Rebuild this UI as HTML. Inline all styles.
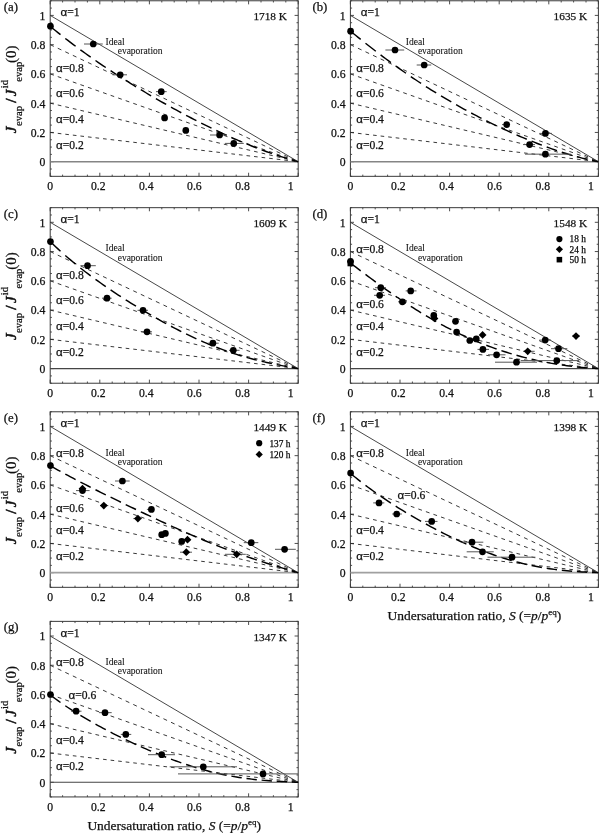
<!DOCTYPE html>
<html><head><meta charset="utf-8"><style>
html,body{margin:0;padding:0;background:#fff;}
svg{display:block;font-family:"Liberation Serif", serif;will-change:transform;filter:blur(0.3px);}
text{stroke:#111;stroke-width:0.25px;}
.lt text{stroke-width:0.08px;}
</style></head><body>
<svg width="600" height="833" viewBox="0 0 600 833" fill="#111">
<rect width="600" height="833" fill="#fff"/>
<g><rect x="50.2" y="0.77" width="248" height="175.56" fill="none" stroke="#3a3a3a" stroke-width="1"/>
<path d="M50.2,176.33v-3.6M50.2,0.77v3.6M62.6,176.33v-1.7M62.6,0.77v1.7M75,176.33v-1.7M75,0.77v1.7M87.4,176.33v-1.7M87.4,0.77v1.7M99.8,176.33v-3.6M99.8,0.77v3.6M112.2,176.33v-1.7M112.2,0.77v1.7M124.6,176.33v-1.7M124.6,0.77v1.7M137,176.33v-1.7M137,0.77v1.7M149.4,176.33v-3.6M149.4,0.77v3.6M161.8,176.33v-1.7M161.8,0.77v1.7M174.2,176.33v-1.7M174.2,0.77v1.7M186.6,176.33v-1.7M186.6,0.77v1.7M199,176.33v-3.6M199,0.77v3.6M211.4,176.33v-1.7M211.4,0.77v1.7M223.8,176.33v-1.7M223.8,0.77v1.7M236.2,176.33v-1.7M236.2,0.77v1.7M248.6,176.33v-3.6M248.6,0.77v3.6M261,176.33v-1.7M261,0.77v1.7M273.4,176.33v-1.7M273.4,0.77v1.7M285.8,176.33v-1.7M285.8,0.77v1.7M298.2,176.33v-3.6M298.2,0.77v3.6M50.2,176.33h1.7M298.2,176.33h-1.7M50.2,169.01h1.7M298.2,169.01h-1.7M50.2,161.7h3.6M298.2,161.7h-3.6M50.2,154.38h1.7M298.2,154.38h-1.7M50.2,147.07h1.7M298.2,147.07h-1.7M50.2,139.75h1.7M298.2,139.75h-1.7M50.2,132.44h3.6M298.2,132.44h-3.6M50.2,125.12h1.7M298.2,125.12h-1.7M50.2,117.81h1.7M298.2,117.81h-1.7M50.2,110.49h1.7M298.2,110.49h-1.7M50.2,103.18h3.6M298.2,103.18h-3.6M50.2,95.86h1.7M298.2,95.86h-1.7M50.2,88.55h1.7M298.2,88.55h-1.7M50.2,81.23h1.7M298.2,81.23h-1.7M50.2,73.92h3.6M298.2,73.92h-3.6M50.2,66.6h1.7M298.2,66.6h-1.7M50.2,59.29h1.7M298.2,59.29h-1.7M50.2,51.97h1.7M298.2,51.97h-1.7M50.2,44.66h3.6M298.2,44.66h-3.6M50.2,37.34h1.7M298.2,37.34h-1.7M50.2,30.03h1.7M298.2,30.03h-1.7M50.2,22.71h1.7M298.2,22.71h-1.7M50.2,15.4h3.6M298.2,15.4h-3.6M50.2,8.08h1.7M298.2,8.08h-1.7M50.2,0.77h1.7M298.2,0.77h-1.7" stroke="#3a3a3a" stroke-width="0.9" fill="none"/>
<line x1="50.2" y1="161.7" x2="298.2" y2="161.7" stroke="#858585" stroke-width="1.6"/>
<path d="M50.2,44.66 53.8,46.36M57.75,48.22 61.35,49.92M65.3,51.79 68.9,53.49M72.85,55.35 76.45,57.05M80.4,58.91 84,60.61M87.95,62.48 91.55,64.17M95.5,66.04 99.1,67.74M103.05,69.6 106.65,71.3M110.6,73.16 114.2,74.86M118.15,76.73 121.75,78.43M125.7,80.29 129.3,81.99M133.25,83.85 136.85,85.55M140.8,87.42 144.4,89.12M148.35,90.98 151.95,92.68M155.9,94.54 159.5,96.24M163.45,98.11 167.05,99.81M171,101.67 174.6,103.37M178.55,105.23 182.15,106.93M186.1,108.8 189.7,110.49M193.65,112.36 197.25,114.06M201.2,115.92 204.8,117.62M208.75,119.49 212.35,121.18M216.3,123.05 219.9,124.75M223.85,126.61 227.45,128.31M231.4,130.17 235,131.87M238.95,133.74 242.55,135.44M246.5,137.3 250.1,139M254.05,140.86 257.65,142.56M261.6,144.43 265.2,146.13M269.15,147.99 272.75,149.69M276.7,151.55 280.3,153.25M284.25,155.12 287.85,156.82M291.8,158.68 295.4,160.38M50.2,73.92 53.8,75.19M57.75,76.59 61.35,77.87M65.3,79.26 68.9,80.54M72.85,81.94 76.45,83.21M80.4,84.61 84,85.88M87.95,87.28 91.55,88.56M95.5,89.95 99.1,91.23M103.05,92.63 106.65,93.9M110.6,95.3 114.2,96.57M118.15,97.97 121.75,99.25M125.7,100.64 129.3,101.92M133.25,103.32 136.85,104.59M140.8,105.99 144.4,107.26M148.35,108.66 151.95,109.93M155.9,111.33 159.5,112.61M163.45,114.01 167.05,115.28M171,116.68 174.6,117.95M178.55,119.35 182.15,120.62M186.1,122.02 189.7,123.3M193.65,124.69 197.25,125.97M201.2,127.37 204.8,128.64M208.75,130.04 212.35,131.31M216.3,132.71 219.9,133.99M223.85,135.38 227.45,136.66M231.4,138.06 235,139.33M238.95,140.73 242.55,142M246.5,143.4 250.1,144.67M254.05,146.07 257.65,147.35M261.6,148.75 265.2,150.02M269.15,151.42 272.75,152.69M276.7,154.09 280.3,155.36M284.25,156.76 287.85,158.04M291.8,159.43 295.4,160.71M50.2,103.18 53.8,104.03M57.75,104.96 61.35,105.81M65.3,106.74 68.9,107.59M72.85,108.52 76.45,109.37M80.4,110.31 84,111.16M87.95,112.09 91.55,112.94M95.5,113.87 99.1,114.72M103.05,115.65 106.65,116.5M110.6,117.43 114.2,118.28M118.15,119.21 121.75,120.06M125.7,121 129.3,121.85M133.25,122.78 136.85,123.63M140.8,124.56 144.4,125.41M148.35,126.34 151.95,127.19M155.9,128.12 159.5,128.97M163.45,129.9 167.05,130.75M171,131.68 174.6,132.53M178.55,133.47 182.15,134.32M186.1,135.25 189.7,136.1M193.65,137.03 197.25,137.88M201.2,138.81 204.8,139.66M208.75,140.59 212.35,141.44M216.3,142.37 219.9,143.22M223.85,144.16 227.45,145.01M231.4,145.94 235,146.79M238.95,147.72 242.55,148.57M246.5,149.5 250.1,150.35M254.05,151.28 257.65,152.13M261.6,153.06 265.2,153.91M269.15,154.85 272.75,155.69M276.7,156.63 280.3,157.48M284.25,158.41 287.85,159.26M291.8,160.19 295.4,161.04M50.2,132.44 53.8,132.86M57.75,133.33 61.35,133.76M65.3,134.22 68.9,134.65M72.85,135.11 76.45,135.54M80.4,136 84,136.43M87.95,136.89 91.55,137.32M95.5,137.78 99.1,138.21M103.05,138.68 106.65,139.1M110.6,139.57 114.2,139.99M118.15,140.46 121.75,140.88M125.7,141.35 129.3,141.77M133.25,142.24 136.85,142.66M140.8,143.13 144.4,143.55M148.35,144.02 151.95,144.44M155.9,144.91 159.5,145.34M163.45,145.8 167.05,146.23M171,146.69 174.6,147.12M178.55,147.58 182.15,148.01M186.1,148.47 189.7,148.9M193.65,149.36 197.25,149.79M201.2,150.26 204.8,150.68M208.75,151.15 212.35,151.57M216.3,152.04 219.9,152.46M223.85,152.93 227.45,153.35M231.4,153.82 235,154.24M238.95,154.71 242.55,155.13M246.5,155.6 250.1,156.02M254.05,156.49 257.65,156.92M261.6,157.38 265.2,157.81M269.15,158.27 272.75,158.7M276.7,159.16 280.3,159.59M284.25,160.05 287.85,160.48M291.8,160.94 295.4,161.37" stroke="#222" stroke-width="0.9" fill="none"/>
<line x1="50.2" y1="15.4" x2="298.2" y2="161.7" stroke="#333" stroke-width="0.9"/>
<path d="M50.2,26.31 52.78,28.44 55.35,30.55 57.92,32.63 60.5,34.68M65.3,38.45 67.88,40.44 70.45,42.4 73.02,44.35 75.6,46.27M80.4,49.81 82.98,51.68 85.55,53.53 88.12,55.36 90.7,57.17M95.5,60.52 98.08,62.28 100.65,64.04 103.22,65.78 105.8,67.5M110.6,70.68 113.17,72.36 115.75,74.04 118.32,75.7 120.9,77.34M125.7,80.38 128.28,81.99 130.85,83.59 133.43,85.18 136,86.76M140.8,89.67 143.38,91.21 145.95,92.75 148.53,94.27 151.1,95.79M155.9,98.58 158.48,100.06 161.05,101.54 163.62,103 166.2,104.45M171,107.13 173.57,108.55 176.15,109.96 178.73,111.36 181.3,112.75M186.1,115.31 188.68,116.67 191.25,118.01 193.83,119.35 196.4,120.67M201.2,123.11 203.77,124.4 206.35,125.68 208.93,126.94 211.5,128.19M216.3,130.5 218.88,131.71 221.45,132.92 224.03,134.11 226.6,135.28M231.4,137.44 233.97,138.58 236.55,139.7 239.12,140.81 241.7,141.9M246.5,143.9 249.07,144.95 251.65,145.98 254.23,147 256.8,148M261.6,149.82 264.18,150.77 266.75,151.71 269.33,152.63 271.9,153.53M276.7,155.17 279.27,156.02 281.85,156.85 284.43,157.67 287,158.46M291.8,159.89 293.93,160.51 296.07,161.11 298.2,161.7" fill="none" stroke="#000" stroke-width="1.45"/>
<line x1="84" y1="44" x2="102.75" y2="44" stroke="#555" stroke-width="1"/>
<line x1="112.5" y1="74.8" x2="127" y2="74.8" stroke="#555" stroke-width="1"/>
<line x1="156" y1="91.65" x2="166.7" y2="91.65" stroke="#555" stroke-width="1"/>
<line x1="210" y1="135" x2="227" y2="135" stroke="#555" stroke-width="1"/>
<line x1="225" y1="143.4" x2="243.75" y2="143.4" stroke="#555" stroke-width="1"/>
<g fill="#000"><circle cx="50.45" cy="26.2" r="3.35"/><circle cx="93.25" cy="44" r="3.35"/><circle cx="120.2" cy="74.8" r="3.35"/><circle cx="161.25" cy="91.65" r="3.35"/><circle cx="164.6" cy="117.9" r="3.35"/><circle cx="185.8" cy="130.4" r="3.35"/><circle cx="219.6" cy="135" r="3.35"/><circle cx="233.75" cy="143.4" r="3.35"/></g>
<g font-size="11.7"><text x="45.3" y="166.1" text-anchor="end">0</text><text x="45.3" y="136.84" text-anchor="end">0.2</text><text x="45.3" y="107.58" text-anchor="end">0.4</text><text x="45.3" y="78.32" text-anchor="end">0.6</text><text x="45.3" y="49.06" text-anchor="end">0.8</text><text x="45.3" y="19.8" text-anchor="end">1</text><text x="50.1" y="190.13" text-anchor="middle">0</text><text x="98.2" y="190.13" text-anchor="middle">0.2</text><text x="146.3" y="190.13" text-anchor="middle">0.4</text><text x="194.4" y="190.13" text-anchor="middle">0.6</text><text x="242.5" y="190.13" text-anchor="middle">0.8</text><text x="290.6" y="190.13" text-anchor="middle">1</text></g>
<text x="3.7" y="10.77" font-size="12.8">(a)</text>
<text x="287" y="20.07" font-size="11.3" text-anchor="end">1718 K</text>
<g font-size="11.6"><text x="60.5" y="16.37"><tspan font-family="Liberation Sans">&#945;</tspan>=1</text><text x="56" y="71.7"><tspan font-family="Liberation Sans">&#945;</tspan>=0.8</text><text x="56" y="97"><tspan font-family="Liberation Sans">&#945;</tspan>=0.6</text><text x="56" y="123.3"><tspan font-family="Liberation Sans">&#945;</tspan>=0.4</text><text x="56" y="148.9"><tspan font-family="Liberation Sans">&#945;</tspan>=0.2</text></g>
<g class="lt" font-size="9.5"><text x="105.6" y="44.57" font-size="9.6">Ideal</text><text x="117.7" y="53.87">evaporation</text></g>
<g transform="translate(15.6,162.5) rotate(-90)"><text x="29.3" y="0" font-size="15" font-style="italic" style="stroke-width:0.55px">J</text><text x="36.5" y="6.8" font-size="10.6">evap</text><text x="59.7" y="0" font-size="15.5" style="stroke-width:0.55px">/</text><text x="66.3" y="0" font-size="15" font-style="italic" style="stroke-width:0.55px">J</text><text x="74.2" y="-7.8" font-size="10.6">id</text><text x="80.8" y="6.8" font-size="10.6">evap</text><text x="99.6" y="0" font-size="15">(0)</text></g></g>
<g><rect x="350.4" y="0.77" width="248" height="175.56" fill="none" stroke="#3a3a3a" stroke-width="1"/>
<path d="M350.4,176.33v-3.6M350.4,0.77v3.6M362.8,176.33v-1.7M362.8,0.77v1.7M375.2,176.33v-1.7M375.2,0.77v1.7M387.6,176.33v-1.7M387.6,0.77v1.7M400,176.33v-3.6M400,0.77v3.6M412.4,176.33v-1.7M412.4,0.77v1.7M424.8,176.33v-1.7M424.8,0.77v1.7M437.2,176.33v-1.7M437.2,0.77v1.7M449.6,176.33v-3.6M449.6,0.77v3.6M462,176.33v-1.7M462,0.77v1.7M474.4,176.33v-1.7M474.4,0.77v1.7M486.8,176.33v-1.7M486.8,0.77v1.7M499.2,176.33v-3.6M499.2,0.77v3.6M511.6,176.33v-1.7M511.6,0.77v1.7M524,176.33v-1.7M524,0.77v1.7M536.4,176.33v-1.7M536.4,0.77v1.7M548.8,176.33v-3.6M548.8,0.77v3.6M561.2,176.33v-1.7M561.2,0.77v1.7M573.6,176.33v-1.7M573.6,0.77v1.7M586,176.33v-1.7M586,0.77v1.7M598.4,176.33v-3.6M598.4,0.77v3.6M350.4,176.33h1.7M598.4,176.33h-1.7M350.4,169.01h1.7M598.4,169.01h-1.7M350.4,161.7h3.6M598.4,161.7h-3.6M350.4,154.38h1.7M598.4,154.38h-1.7M350.4,147.07h1.7M598.4,147.07h-1.7M350.4,139.75h1.7M598.4,139.75h-1.7M350.4,132.44h3.6M598.4,132.44h-3.6M350.4,125.12h1.7M598.4,125.12h-1.7M350.4,117.81h1.7M598.4,117.81h-1.7M350.4,110.49h1.7M598.4,110.49h-1.7M350.4,103.18h3.6M598.4,103.18h-3.6M350.4,95.86h1.7M598.4,95.86h-1.7M350.4,88.55h1.7M598.4,88.55h-1.7M350.4,81.23h1.7M598.4,81.23h-1.7M350.4,73.92h3.6M598.4,73.92h-3.6M350.4,66.6h1.7M598.4,66.6h-1.7M350.4,59.29h1.7M598.4,59.29h-1.7M350.4,51.97h1.7M598.4,51.97h-1.7M350.4,44.66h3.6M598.4,44.66h-3.6M350.4,37.34h1.7M598.4,37.34h-1.7M350.4,30.03h1.7M598.4,30.03h-1.7M350.4,22.71h1.7M598.4,22.71h-1.7M350.4,15.4h3.6M598.4,15.4h-3.6M350.4,8.08h1.7M598.4,8.08h-1.7M350.4,0.77h1.7M598.4,0.77h-1.7" stroke="#3a3a3a" stroke-width="0.9" fill="none"/>
<line x1="350.4" y1="161.7" x2="598.4" y2="161.7" stroke="#858585" stroke-width="1.6"/>
<path d="M350.4,44.66 354,46.36M357.95,48.22 361.55,49.92M365.5,51.79 369.1,53.49M373.05,55.35 376.65,57.05M380.6,58.91 384.2,60.61M388.15,62.48 391.75,64.17M395.7,66.04 399.3,67.74M403.25,69.6 406.85,71.3M410.8,73.16 414.4,74.86M418.35,76.73 421.95,78.43M425.9,80.29 429.5,81.99M433.45,83.85 437.05,85.55M441,87.42 444.6,89.12M448.55,90.98 452.15,92.68M456.1,94.54 459.7,96.24M463.65,98.11 467.25,99.81M471.2,101.67 474.8,103.37M478.75,105.23 482.35,106.93M486.3,108.8 489.9,110.49M493.85,112.36 497.45,114.06M501.4,115.92 505,117.62M508.95,119.49 512.55,121.18M516.5,123.05 520.1,124.75M524.05,126.61 527.65,128.31M531.6,130.17 535.2,131.87M539.15,133.74 542.75,135.44M546.7,137.3 550.3,139M554.25,140.86 557.85,142.56M561.8,144.43 565.4,146.13M569.35,147.99 572.95,149.69M576.9,151.55 580.5,153.25M584.45,155.12 588.05,156.82M592,158.68 595.6,160.38M350.4,73.92 354,75.19M357.95,76.59 361.55,77.87M365.5,79.26 369.1,80.54M373.05,81.94 376.65,83.21M380.6,84.61 384.2,85.88M388.15,87.28 391.75,88.56M395.7,89.95 399.3,91.23M403.25,92.63 406.85,93.9M410.8,95.3 414.4,96.57M418.35,97.97 421.95,99.25M425.9,100.64 429.5,101.92M433.45,103.32 437.05,104.59M441,105.99 444.6,107.26M448.55,108.66 452.15,109.93M456.1,111.33 459.7,112.61M463.65,114.01 467.25,115.28M471.2,116.68 474.8,117.95M478.75,119.35 482.35,120.62M486.3,122.02 489.9,123.3M493.85,124.69 497.45,125.97M501.4,127.37 505,128.64M508.95,130.04 512.55,131.31M516.5,132.71 520.1,133.99M524.05,135.38 527.65,136.66M531.6,138.06 535.2,139.33M539.15,140.73 542.75,142M546.7,143.4 550.3,144.67M554.25,146.07 557.85,147.35M561.8,148.75 565.4,150.02M569.35,151.42 572.95,152.69M576.9,154.09 580.5,155.36M584.45,156.76 588.05,158.04M592,159.43 595.6,160.71M350.4,103.18 354,104.03M357.95,104.96 361.55,105.81M365.5,106.74 369.1,107.59M373.05,108.52 376.65,109.37M380.6,110.31 384.2,111.16M388.15,112.09 391.75,112.94M395.7,113.87 399.3,114.72M403.25,115.65 406.85,116.5M410.8,117.43 414.4,118.28M418.35,119.21 421.95,120.06M425.9,121 429.5,121.85M433.45,122.78 437.05,123.63M441,124.56 444.6,125.41M448.55,126.34 452.15,127.19M456.1,128.12 459.7,128.97M463.65,129.9 467.25,130.75M471.2,131.68 474.8,132.53M478.75,133.47 482.35,134.32M486.3,135.25 489.9,136.1M493.85,137.03 497.45,137.88M501.4,138.81 505,139.66M508.95,140.59 512.55,141.44M516.5,142.37 520.1,143.22M524.05,144.16 527.65,145.01M531.6,145.94 535.2,146.79M539.15,147.72 542.75,148.57M546.7,149.5 550.3,150.35M554.25,151.28 557.85,152.13M561.8,153.06 565.4,153.91M569.35,154.85 572.95,155.69M576.9,156.63 580.5,157.48M584.45,158.41 588.05,159.26M592,160.19 595.6,161.04M350.4,132.44 354,132.86M357.95,133.33 361.55,133.76M365.5,134.22 369.1,134.65M373.05,135.11 376.65,135.54M380.6,136 384.2,136.43M388.15,136.89 391.75,137.32M395.7,137.78 399.3,138.21M403.25,138.68 406.85,139.1M410.8,139.57 414.4,139.99M418.35,140.46 421.95,140.88M425.9,141.35 429.5,141.77M433.45,142.24 437.05,142.66M441,143.13 444.6,143.55M448.55,144.02 452.15,144.44M456.1,144.91 459.7,145.34M463.65,145.8 467.25,146.23M471.2,146.69 474.8,147.12M478.75,147.58 482.35,148.01M486.3,148.47 489.9,148.9M493.85,149.36 497.45,149.79M501.4,150.26 505,150.68M508.95,151.15 512.55,151.57M516.5,152.04 520.1,152.46M524.05,152.93 527.65,153.35M531.6,153.82 535.2,154.24M539.15,154.71 542.75,155.13M546.7,155.6 550.3,156.02M554.25,156.49 557.85,156.92M561.8,157.38 565.4,157.81M569.35,158.27 572.95,158.7M576.9,159.16 580.5,159.59M584.45,160.05 588.05,160.48M592,160.94 595.6,161.37" stroke="#222" stroke-width="0.9" fill="none"/>
<line x1="350.4" y1="15.4" x2="598.4" y2="161.7" stroke="#333" stroke-width="0.9"/>
<path d="M350.4,31.1 352.97,33.2 355.55,35.29 358.12,37.37 360.7,39.43M365.5,43.24 368.07,45.26 370.65,47.27 373.23,49.27 375.8,51.25M380.6,54.9 383.17,56.84 385.75,58.76 388.32,60.66 390.9,62.55M395.7,66.02 398.27,67.86 400.85,69.68 403.43,71.49 406,73.27M410.8,76.56 413.37,78.3 415.95,80.02 418.52,81.73 421.1,83.42M425.9,86.52 428.47,88.16 431.05,89.78 433.62,91.39 436.2,92.98M441,95.89 443.57,97.44 446.15,98.96 448.73,100.47 451.3,101.97M456.1,104.71 458.67,106.16 461.25,107.59 463.82,109.01 466.4,110.42M471.2,112.99 473.77,114.35 476.35,115.7 478.93,117.03 481.5,118.35M486.3,120.77 488.87,122.04 491.45,123.3 494.02,124.55 496.6,125.79M501.4,128.05 503.97,129.25 506.55,130.43 509.12,131.59 511.7,132.75M516.5,134.86 519.08,135.97 521.65,137.07 524.22,138.15 526.8,139.22M531.6,141.18 534.17,142.2 536.75,143.21 539.32,144.21 541.9,145.19M546.7,146.97 549.27,147.9 551.85,148.82 554.42,149.72 557,150.59M561.8,152.18 564.38,153.01 566.95,153.81 569.52,154.59 572.1,155.35M576.9,156.71 579.47,157.41 582.05,158.08 584.62,158.72 587.2,159.34M592,160.42 594.13,160.87 596.27,161.29 598.4,161.7" fill="none" stroke="#000" stroke-width="1.45"/>
<line x1="385.4" y1="50" x2="404.2" y2="50" stroke="#555" stroke-width="1"/>
<line x1="416.7" y1="65" x2="431.25" y2="65" stroke="#555" stroke-width="1"/>
<line x1="502" y1="124.6" x2="510" y2="124.6" stroke="#555" stroke-width="1"/>
<line x1="539.6" y1="133.4" x2="552" y2="133.4" stroke="#555" stroke-width="1"/>
<line x1="523" y1="144.6" x2="535" y2="144.6" stroke="#555" stroke-width="1"/>
<line x1="525" y1="154.15" x2="570.8" y2="154.15" stroke="#555" stroke-width="1"/>
<g fill="#000"><circle cx="350.6" cy="31.2" r="3.35"/><circle cx="395" cy="50" r="3.35"/><circle cx="424.2" cy="65" r="3.35"/><circle cx="506.7" cy="124.6" r="3.35"/><circle cx="545.4" cy="133.4" r="3.35"/><circle cx="529.6" cy="144.6" r="3.35"/><circle cx="545.4" cy="154.15" r="3.35"/></g>
<g font-size="11.7"><text x="345.5" y="166.1" text-anchor="end">0</text><text x="345.5" y="136.84" text-anchor="end">0.2</text><text x="345.5" y="107.58" text-anchor="end">0.4</text><text x="345.5" y="78.32" text-anchor="end">0.6</text><text x="345.5" y="49.06" text-anchor="end">0.8</text><text x="345.5" y="19.8" text-anchor="end">1</text><text x="350.3" y="190.13" text-anchor="middle">0</text><text x="398.4" y="190.13" text-anchor="middle">0.2</text><text x="446.5" y="190.13" text-anchor="middle">0.4</text><text x="494.6" y="190.13" text-anchor="middle">0.6</text><text x="542.7" y="190.13" text-anchor="middle">0.8</text><text x="590.8" y="190.13" text-anchor="middle">1</text></g>
<text x="312.4" y="10.77" font-size="12.8">(b)</text>
<text x="587.2" y="20.07" font-size="11.3" text-anchor="end">1635 K</text>
<g font-size="11.6"><text x="360.7" y="16.37"><tspan font-family="Liberation Sans">&#945;</tspan>=1</text><text x="356.2" y="71.7"><tspan font-family="Liberation Sans">&#945;</tspan>=0.8</text><text x="356.2" y="97"><tspan font-family="Liberation Sans">&#945;</tspan>=0.6</text><text x="356.2" y="123.3"><tspan font-family="Liberation Sans">&#945;</tspan>=0.4</text><text x="356.2" y="148.9"><tspan font-family="Liberation Sans">&#945;</tspan>=0.2</text></g>
<g class="lt" font-size="9.5"><text x="405.8" y="44.57" font-size="9.6">Ideal</text><text x="417.9" y="53.87">evaporation</text></g></g>
<g><rect x="50.2" y="207.67" width="248" height="175.56" fill="none" stroke="#3a3a3a" stroke-width="1"/>
<path d="M50.2,383.23v-3.6M50.2,207.67v3.6M62.6,383.23v-1.7M62.6,207.67v1.7M75,383.23v-1.7M75,207.67v1.7M87.4,383.23v-1.7M87.4,207.67v1.7M99.8,383.23v-3.6M99.8,207.67v3.6M112.2,383.23v-1.7M112.2,207.67v1.7M124.6,383.23v-1.7M124.6,207.67v1.7M137,383.23v-1.7M137,207.67v1.7M149.4,383.23v-3.6M149.4,207.67v3.6M161.8,383.23v-1.7M161.8,207.67v1.7M174.2,383.23v-1.7M174.2,207.67v1.7M186.6,383.23v-1.7M186.6,207.67v1.7M199,383.23v-3.6M199,207.67v3.6M211.4,383.23v-1.7M211.4,207.67v1.7M223.8,383.23v-1.7M223.8,207.67v1.7M236.2,383.23v-1.7M236.2,207.67v1.7M248.6,383.23v-3.6M248.6,207.67v3.6M261,383.23v-1.7M261,207.67v1.7M273.4,383.23v-1.7M273.4,207.67v1.7M285.8,383.23v-1.7M285.8,207.67v1.7M298.2,383.23v-3.6M298.2,207.67v3.6M50.2,383.23h1.7M298.2,383.23h-1.7M50.2,375.92h1.7M298.2,375.92h-1.7M50.2,368.6h3.6M298.2,368.6h-3.6M50.2,361.29h1.7M298.2,361.29h-1.7M50.2,353.97h1.7M298.2,353.97h-1.7M50.2,346.66h1.7M298.2,346.66h-1.7M50.2,339.34h3.6M298.2,339.34h-3.6M50.2,332.03h1.7M298.2,332.03h-1.7M50.2,324.71h1.7M298.2,324.71h-1.7M50.2,317.4h1.7M298.2,317.4h-1.7M50.2,310.08h3.6M298.2,310.08h-3.6M50.2,302.76h1.7M298.2,302.76h-1.7M50.2,295.45h1.7M298.2,295.45h-1.7M50.2,288.13h1.7M298.2,288.13h-1.7M50.2,280.82h3.6M298.2,280.82h-3.6M50.2,273.5h1.7M298.2,273.5h-1.7M50.2,266.19h1.7M298.2,266.19h-1.7M50.2,258.88h1.7M298.2,258.88h-1.7M50.2,251.56h3.6M298.2,251.56h-3.6M50.2,244.25h1.7M298.2,244.25h-1.7M50.2,236.93h1.7M298.2,236.93h-1.7M50.2,229.62h1.7M298.2,229.62h-1.7M50.2,222.3h3.6M298.2,222.3h-3.6M50.2,214.99h1.7M298.2,214.99h-1.7M50.2,207.67h1.7M298.2,207.67h-1.7" stroke="#3a3a3a" stroke-width="0.9" fill="none"/>
<line x1="50.2" y1="368.6" x2="298.2" y2="368.6" stroke="#454545" stroke-width="1.1"/>
<path d="M50.2,251.56 53.8,253.26M57.75,255.12 61.35,256.82M65.3,258.69 68.9,260.39M72.85,262.25 76.45,263.95M80.4,265.81 84,267.51M87.95,269.38 91.55,271.07M95.5,272.94 99.1,274.64M103.05,276.5 106.65,278.2M110.6,280.06 114.2,281.76M118.15,283.63 121.75,285.33M125.7,287.19 129.3,288.89M133.25,290.75 136.85,292.45M140.8,294.32 144.4,296.02M148.35,297.88 151.95,299.58M155.9,301.44 159.5,303.14M163.45,305.01 167.05,306.71M171,308.57 174.6,310.27M178.55,312.13 182.15,313.83M186.1,315.7 189.7,317.4M193.65,319.26 197.25,320.96M201.2,322.82 204.8,324.52M208.75,326.39 212.35,328.08M216.3,329.95 219.9,331.65M223.85,333.51 227.45,335.21M231.4,337.07 235,338.77M238.95,340.64 242.55,342.34M246.5,344.2 250.1,345.9M254.05,347.76 257.65,349.46M261.6,351.33 265.2,353.03M269.15,354.89 272.75,356.59M276.7,358.45 280.3,360.15M284.25,362.02 287.85,363.72M291.8,365.58 295.4,367.28M50.2,280.82 53.8,282.09M57.75,283.49 61.35,284.77M65.3,286.16 68.9,287.44M72.85,288.84 76.45,290.11M80.4,291.51 84,292.78M87.95,294.18 91.55,295.46M95.5,296.85 99.1,298.13M103.05,299.53 106.65,300.8M110.6,302.2 114.2,303.47M118.15,304.87 121.75,306.15M125.7,307.54 129.3,308.82M133.25,310.22 136.85,311.49M140.8,312.89 144.4,314.16M148.35,315.56 151.95,316.83M155.9,318.23 159.5,319.51M163.45,320.91 167.05,322.18M171,323.58 174.6,324.85M178.55,326.25 182.15,327.52M186.1,328.92 189.7,330.2M193.65,331.59 197.25,332.87M201.2,334.27 204.8,335.54M208.75,336.94 212.35,338.21M216.3,339.61 219.9,340.89M223.85,342.28 227.45,343.56M231.4,344.96 235,346.23M238.95,347.63 242.55,348.9M246.5,350.3 250.1,351.57M254.05,352.97 257.65,354.25M261.6,355.65 265.2,356.92M269.15,358.32 272.75,359.59M276.7,360.99 280.3,362.26M284.25,363.66 287.85,364.94M291.8,366.33 295.4,367.61M50.2,310.08 53.8,310.93M57.75,311.86 61.35,312.71M65.3,313.64 68.9,314.49M72.85,315.42 76.45,316.27M80.4,317.21 84,318.06M87.95,318.99 91.55,319.84M95.5,320.77 99.1,321.62M103.05,322.55 106.65,323.4M110.6,324.33 114.2,325.18M118.15,326.11 121.75,326.96M125.7,327.9 129.3,328.75M133.25,329.68 136.85,330.53M140.8,331.46 144.4,332.31M148.35,333.24 151.95,334.09M155.9,335.02 159.5,335.87M163.45,336.8 167.05,337.65M171,338.58 174.6,339.43M178.55,340.37 182.15,341.22M186.1,342.15 189.7,343M193.65,343.93 197.25,344.78M201.2,345.71 204.8,346.56M208.75,347.49 212.35,348.34M216.3,349.27 219.9,350.12M223.85,351.06 227.45,351.91M231.4,352.84 235,353.69M238.95,354.62 242.55,355.47M246.5,356.4 250.1,357.25M254.05,358.18 257.65,359.03M261.6,359.96 265.2,360.81M269.15,361.75 272.75,362.59M276.7,363.53 280.3,364.38M284.25,365.31 287.85,366.16M291.8,367.09 295.4,367.94M50.2,339.34 53.8,339.76M57.75,340.23 61.35,340.66M65.3,341.12 68.9,341.55M72.85,342.01 76.45,342.44M80.4,342.9 84,343.33M87.95,343.79 91.55,344.22M95.5,344.68 99.1,345.11M103.05,345.58 106.65,346M110.6,346.47 114.2,346.89M118.15,347.36 121.75,347.78M125.7,348.25 129.3,348.67M133.25,349.14 136.85,349.56M140.8,350.03 144.4,350.45M148.35,350.92 151.95,351.34M155.9,351.81 159.5,352.24M163.45,352.7 167.05,353.13M171,353.59 174.6,354.02M178.55,354.48 182.15,354.91M186.1,355.37 189.7,355.8M193.65,356.26 197.25,356.69M201.2,357.16 204.8,357.58M208.75,358.05 212.35,358.47M216.3,358.94 219.9,359.36M223.85,359.83 227.45,360.25M231.4,360.72 235,361.14M238.95,361.61 242.55,362.03M246.5,362.5 250.1,362.92M254.05,363.39 257.65,363.82M261.6,364.28 265.2,364.71M269.15,365.17 272.75,365.6M276.7,366.06 280.3,366.49M284.25,366.95 287.85,367.38M291.8,367.84 295.4,368.27" stroke="#222" stroke-width="0.9" fill="none"/>
<line x1="50.2" y1="222.3" x2="298.2" y2="368.6" stroke="#333" stroke-width="0.9"/>
<path d="M50.2,241.52 52.78,244.03 55.35,246.48 57.92,248.88 60.5,251.23M65.3,255.49 67.88,257.71 70.45,259.89 73.02,262.03 75.6,264.13M80.4,267.96 82.98,269.97 85.55,271.95 88.12,273.9 90.7,275.82M95.5,279.33 98.08,281.19 100.65,283.01 103.22,284.82 105.8,286.61M110.6,289.88 113.17,291.62 115.75,293.33 118.32,295.02 120.9,296.7M125.7,299.79 128.28,301.42 130.85,303.04 133.43,304.64 136,306.23M140.8,309.14 143.38,310.69 145.95,312.21 148.53,313.73 151.1,315.22M155.9,317.97 158.48,319.43 161.05,320.86 163.62,322.28 166.2,323.68M171,326.26 173.57,327.61 176.15,328.95 178.73,330.26 181.3,331.56M186.1,333.93 188.68,335.18 191.25,336.4 193.83,337.61 196.4,338.79M201.2,340.94 203.77,342.07 206.35,343.17 208.93,344.25 211.5,345.3M216.3,347.21 218.88,348.2 221.45,349.17 224.03,350.11 226.6,351.04M231.4,352.69 233.97,353.55 236.55,354.38 239.12,355.19 241.7,355.97M246.5,357.37 249.07,358.1 251.65,358.8 254.23,359.47 256.8,360.13M261.6,361.3 264.18,361.91 266.75,362.49 269.33,363.06 271.9,363.61M276.7,364.59 279.27,365.11 281.85,365.6 284.43,366.09 287,366.57M291.8,367.45 293.93,367.83 296.07,368.22 298.2,368.6" fill="none" stroke="#000" stroke-width="1.45"/>
<line x1="81" y1="265.7" x2="95.8" y2="265.7" stroke="#555" stroke-width="1"/>
<line x1="102" y1="298.2" x2="111.7" y2="298.2" stroke="#555" stroke-width="1"/>
<line x1="137.5" y1="310.3" x2="148" y2="310.3" stroke="#555" stroke-width="1"/>
<line x1="141" y1="331.8" x2="152" y2="331.8" stroke="#555" stroke-width="1"/>
<line x1="208" y1="343.2" x2="218.7" y2="343.2" stroke="#555" stroke-width="1"/>
<line x1="229" y1="350.3" x2="239.6" y2="350.3" stroke="#555" stroke-width="1"/>
<g fill="#000"><circle cx="50.45" cy="241.6" r="3.35"/><circle cx="87.5" cy="265.7" r="3.35"/><circle cx="107" cy="298.2" r="3.35"/><circle cx="143" cy="310.3" r="3.35"/><circle cx="147" cy="331.8" r="3.35"/><circle cx="212.9" cy="343.2" r="3.35"/><circle cx="233.3" cy="350.3" r="3.35"/></g>
<g font-size="11.7"><text x="45.3" y="373" text-anchor="end">0</text><text x="45.3" y="343.74" text-anchor="end">0.2</text><text x="45.3" y="314.48" text-anchor="end">0.4</text><text x="45.3" y="285.22" text-anchor="end">0.6</text><text x="45.3" y="255.96" text-anchor="end">0.8</text><text x="45.3" y="226.7" text-anchor="end">1</text><text x="50.1" y="397.03" text-anchor="middle">0</text><text x="98.2" y="397.03" text-anchor="middle">0.2</text><text x="146.3" y="397.03" text-anchor="middle">0.4</text><text x="194.4" y="397.03" text-anchor="middle">0.6</text><text x="242.5" y="397.03" text-anchor="middle">0.8</text><text x="290.6" y="397.03" text-anchor="middle">1</text></g>
<text x="3.7" y="217.67" font-size="12.8">(c)</text>
<text x="287" y="226.97" font-size="11.3" text-anchor="end">1609 K</text>
<g font-size="11.6"><text x="60.5" y="223.27"><tspan font-family="Liberation Sans">&#945;</tspan>=1</text><text x="56" y="278.6"><tspan font-family="Liberation Sans">&#945;</tspan>=0.8</text><text x="56" y="303.9"><tspan font-family="Liberation Sans">&#945;</tspan>=0.6</text><text x="56" y="330.2"><tspan font-family="Liberation Sans">&#945;</tspan>=0.4</text><text x="56" y="355.8"><tspan font-family="Liberation Sans">&#945;</tspan>=0.2</text></g>
<g class="lt" font-size="9.5"><text x="105.6" y="251.47" font-size="9.6">Ideal</text><text x="117.7" y="260.77">evaporation</text></g>
<g transform="translate(15.6,369.4) rotate(-90)"><text x="29.3" y="0" font-size="15" font-style="italic" style="stroke-width:0.55px">J</text><text x="36.5" y="6.8" font-size="10.6">evap</text><text x="59.7" y="0" font-size="15.5" style="stroke-width:0.55px">/</text><text x="66.3" y="0" font-size="15" font-style="italic" style="stroke-width:0.55px">J</text><text x="74.2" y="-7.8" font-size="10.6">id</text><text x="80.8" y="6.8" font-size="10.6">evap</text><text x="99.6" y="0" font-size="15">(0)</text></g></g>
<g><rect x="350.4" y="207.67" width="248" height="175.56" fill="none" stroke="#3a3a3a" stroke-width="1"/>
<path d="M350.4,383.23v-3.6M350.4,207.67v3.6M362.8,383.23v-1.7M362.8,207.67v1.7M375.2,383.23v-1.7M375.2,207.67v1.7M387.6,383.23v-1.7M387.6,207.67v1.7M400,383.23v-3.6M400,207.67v3.6M412.4,383.23v-1.7M412.4,207.67v1.7M424.8,383.23v-1.7M424.8,207.67v1.7M437.2,383.23v-1.7M437.2,207.67v1.7M449.6,383.23v-3.6M449.6,207.67v3.6M462,383.23v-1.7M462,207.67v1.7M474.4,383.23v-1.7M474.4,207.67v1.7M486.8,383.23v-1.7M486.8,207.67v1.7M499.2,383.23v-3.6M499.2,207.67v3.6M511.6,383.23v-1.7M511.6,207.67v1.7M524,383.23v-1.7M524,207.67v1.7M536.4,383.23v-1.7M536.4,207.67v1.7M548.8,383.23v-3.6M548.8,207.67v3.6M561.2,383.23v-1.7M561.2,207.67v1.7M573.6,383.23v-1.7M573.6,207.67v1.7M586,383.23v-1.7M586,207.67v1.7M598.4,383.23v-3.6M598.4,207.67v3.6M350.4,383.23h1.7M598.4,383.23h-1.7M350.4,375.92h1.7M598.4,375.92h-1.7M350.4,368.6h3.6M598.4,368.6h-3.6M350.4,361.29h1.7M598.4,361.29h-1.7M350.4,353.97h1.7M598.4,353.97h-1.7M350.4,346.66h1.7M598.4,346.66h-1.7M350.4,339.34h3.6M598.4,339.34h-3.6M350.4,332.03h1.7M598.4,332.03h-1.7M350.4,324.71h1.7M598.4,324.71h-1.7M350.4,317.4h1.7M598.4,317.4h-1.7M350.4,310.08h3.6M598.4,310.08h-3.6M350.4,302.76h1.7M598.4,302.76h-1.7M350.4,295.45h1.7M598.4,295.45h-1.7M350.4,288.13h1.7M598.4,288.13h-1.7M350.4,280.82h3.6M598.4,280.82h-3.6M350.4,273.5h1.7M598.4,273.5h-1.7M350.4,266.19h1.7M598.4,266.19h-1.7M350.4,258.88h1.7M598.4,258.88h-1.7M350.4,251.56h3.6M598.4,251.56h-3.6M350.4,244.25h1.7M598.4,244.25h-1.7M350.4,236.93h1.7M598.4,236.93h-1.7M350.4,229.62h1.7M598.4,229.62h-1.7M350.4,222.3h3.6M598.4,222.3h-3.6M350.4,214.99h1.7M598.4,214.99h-1.7M350.4,207.67h1.7M598.4,207.67h-1.7" stroke="#3a3a3a" stroke-width="0.9" fill="none"/>
<line x1="350.4" y1="368.6" x2="598.4" y2="368.6" stroke="#454545" stroke-width="1.1"/>
<path d="M350.4,251.56 354,253.26M357.95,255.12 361.55,256.82M365.5,258.69 369.1,260.39M373.05,262.25 376.65,263.95M380.6,265.81 384.2,267.51M388.15,269.38 391.75,271.07M395.7,272.94 399.3,274.64M403.25,276.5 406.85,278.2M410.8,280.06 414.4,281.76M418.35,283.63 421.95,285.33M425.9,287.19 429.5,288.89M433.45,290.75 437.05,292.45M441,294.32 444.6,296.02M448.55,297.88 452.15,299.58M456.1,301.44 459.7,303.14M463.65,305.01 467.25,306.71M471.2,308.57 474.8,310.27M478.75,312.13 482.35,313.83M486.3,315.7 489.9,317.4M493.85,319.26 497.45,320.96M501.4,322.82 505,324.52M508.95,326.39 512.55,328.08M516.5,329.95 520.1,331.65M524.05,333.51 527.65,335.21M531.6,337.07 535.2,338.77M539.15,340.64 542.75,342.34M546.7,344.2 550.3,345.9M554.25,347.76 557.85,349.46M561.8,351.33 565.4,353.03M569.35,354.89 572.95,356.59M576.9,358.45 580.5,360.15M584.45,362.02 588.05,363.72M592,365.58 595.6,367.28M350.4,280.82 354,282.09M357.95,283.49 361.55,284.77M365.5,286.16 369.1,287.44M373.05,288.84 376.65,290.11M380.6,291.51 384.2,292.78M388.15,294.18 391.75,295.46M395.7,296.85 399.3,298.13M403.25,299.53 406.85,300.8M410.8,302.2 414.4,303.47M418.35,304.87 421.95,306.15M425.9,307.54 429.5,308.82M433.45,310.22 437.05,311.49M441,312.89 444.6,314.16M448.55,315.56 452.15,316.83M456.1,318.23 459.7,319.51M463.65,320.91 467.25,322.18M471.2,323.58 474.8,324.85M478.75,326.25 482.35,327.52M486.3,328.92 489.9,330.2M493.85,331.59 497.45,332.87M501.4,334.27 505,335.54M508.95,336.94 512.55,338.21M516.5,339.61 520.1,340.89M524.05,342.28 527.65,343.56M531.6,344.96 535.2,346.23M539.15,347.63 542.75,348.9M546.7,350.3 550.3,351.57M554.25,352.97 557.85,354.25M561.8,355.65 565.4,356.92M569.35,358.32 572.95,359.59M576.9,360.99 580.5,362.26M584.45,363.66 588.05,364.94M592,366.33 595.6,367.61M350.4,310.08 354,310.93M357.95,311.86 361.55,312.71M365.5,313.64 369.1,314.49M373.05,315.42 376.65,316.27M380.6,317.21 384.2,318.06M388.15,318.99 391.75,319.84M395.7,320.77 399.3,321.62M403.25,322.55 406.85,323.4M410.8,324.33 414.4,325.18M418.35,326.11 421.95,326.96M425.9,327.9 429.5,328.75M433.45,329.68 437.05,330.53M441,331.46 444.6,332.31M448.55,333.24 452.15,334.09M456.1,335.02 459.7,335.87M463.65,336.8 467.25,337.65M471.2,338.58 474.8,339.43M478.75,340.37 482.35,341.22M486.3,342.15 489.9,343M493.85,343.93 497.45,344.78M501.4,345.71 505,346.56M508.95,347.49 512.55,348.34M516.5,349.27 520.1,350.12M524.05,351.06 527.65,351.91M531.6,352.84 535.2,353.69M539.15,354.62 542.75,355.47M546.7,356.4 550.3,357.25M554.25,358.18 557.85,359.03M561.8,359.96 565.4,360.81M569.35,361.75 572.95,362.59M576.9,363.53 580.5,364.38M584.45,365.31 588.05,366.16M592,367.09 595.6,367.94M350.4,339.34 354,339.76M357.95,340.23 361.55,340.66M365.5,341.12 369.1,341.55M373.05,342.01 376.65,342.44M380.6,342.9 384.2,343.33M388.15,343.79 391.75,344.22M395.7,344.68 399.3,345.11M403.25,345.58 406.85,346M410.8,346.47 414.4,346.89M418.35,347.36 421.95,347.78M425.9,348.25 429.5,348.67M433.45,349.14 437.05,349.56M441,350.03 444.6,350.45M448.55,350.92 452.15,351.34M456.1,351.81 459.7,352.24M463.65,352.7 467.25,353.13M471.2,353.59 474.8,354.02M478.75,354.48 482.35,354.91M486.3,355.37 489.9,355.8M493.85,356.26 497.45,356.69M501.4,357.16 505,357.58M508.95,358.05 512.55,358.47M516.5,358.94 520.1,359.36M524.05,359.83 527.65,360.25M531.6,360.72 535.2,361.14M539.15,361.61 542.75,362.03M546.7,362.5 550.3,362.92M554.25,363.39 557.85,363.82M561.8,364.28 565.4,364.71M569.35,365.17 572.95,365.6M576.9,366.06 580.5,366.49M584.45,366.95 588.05,367.38M592,367.84 595.6,368.27" stroke="#222" stroke-width="0.9" fill="none"/>
<line x1="350.4" y1="222.3" x2="598.4" y2="368.6" stroke="#333" stroke-width="0.9"/>
<path d="M350.4,262.99 352.97,264.96 355.55,266.92 358.12,268.88 360.7,270.83M365.5,274.44 368.07,276.37 370.65,278.29 373.23,280.2 375.8,282.09M380.6,285.59 383.17,287.45 385.75,289.29 388.32,291.12 390.9,292.93M395.7,296.26 398.27,298.02 400.85,299.77 403.43,301.49 406,303.2M410.8,306.33 413.37,307.98 415.95,309.6 418.52,311.21 421.1,312.8M425.9,315.69 428.47,317.21 431.05,318.71 433.62,320.19 436.2,321.64M441,324.29 443.57,325.68 446.15,327.04 448.73,328.38 451.3,329.7M456.1,332.09 458.67,333.34 461.25,334.56 463.82,335.76 466.4,336.94M471.2,339.07 473.77,340.18 476.35,341.27 478.93,342.33 481.5,343.37M486.3,345.25 488.87,346.23 491.45,347.18 494.02,348.11 496.6,349.01M501.4,350.64 503.97,351.49 506.55,352.31 509.12,353.11 511.7,353.88M516.5,355.28 519.08,355.99 521.65,356.69 524.22,357.36 526.8,358.02M531.6,359.19 534.17,359.78 536.75,360.36 539.32,360.92 541.9,361.46M546.7,362.41 549.27,362.89 551.85,363.36 554.42,363.8 557,364.23M561.8,364.98 564.38,365.35 566.95,365.71 569.52,366.05 572.1,366.37M576.9,366.92 579.47,367.18 582.05,367.43 584.62,367.67 587.2,367.88M592,368.23 594.13,368.37 596.27,368.49 598.4,368.6" fill="none" stroke="#000" stroke-width="1.45"/>
<line x1="375" y1="287.7" x2="386" y2="287.7" stroke="#555" stroke-width="1"/>
<line x1="374" y1="295.3" x2="385" y2="295.3" stroke="#555" stroke-width="1"/>
<line x1="405.7" y1="290.9" x2="416.5" y2="290.9" stroke="#555" stroke-width="1"/>
<line x1="398" y1="301.8" x2="407" y2="301.8" stroke="#555" stroke-width="1"/>
<line x1="477.5" y1="349.4" x2="489" y2="349.4" stroke="#555" stroke-width="1"/>
<line x1="488" y1="354.8" x2="505.5" y2="354.8" stroke="#555" stroke-width="1"/>
<line x1="523" y1="351.3" x2="534.7" y2="351.3" stroke="#555" stroke-width="1"/>
<line x1="495" y1="362.2" x2="537" y2="362.2" stroke="#555" stroke-width="1"/>
<line x1="539.3" y1="340.1" x2="551" y2="340.1" stroke="#555" stroke-width="1"/>
<line x1="551" y1="348.7" x2="567.3" y2="348.7" stroke="#555" stroke-width="1"/>
<line x1="520.7" y1="360.6" x2="579" y2="360.6" stroke="#555" stroke-width="1"/>
<line x1="572" y1="336.1" x2="580" y2="336.1" stroke="#555" stroke-width="1"/>
<g fill="#000"><rect x="347.5" y="260.3" width="6" height="6"/><circle cx="350.5" cy="261.3" r="3.35"/><circle cx="380.75" cy="287.7" r="3.35"/><circle cx="379.7" cy="295.3" r="3.35"/><circle cx="410.7" cy="290.9" r="3.35"/><circle cx="402.4" cy="301.8" r="3.35"/><circle cx="433.8" cy="315.4" r="3.35"/><path d="M434.5,314.5L438.4,318.4L434.5,322.3L430.6,318.4Z"/><circle cx="455.5" cy="321.3" r="3.35"/><circle cx="456.6" cy="332.1" r="3.35"/><circle cx="469.8" cy="340.5" r="3.35"/><circle cx="476.3" cy="338.9" r="3.35"/><path d="M482.6,331L486.5,334.9L482.6,338.8L478.7,334.9Z"/><circle cx="482.9" cy="349.4" r="3.35"/><circle cx="496.6" cy="354.8" r="3.35"/><path d="M527.7,347.4L531.6,351.3L527.7,355.2L523.8,351.3Z"/><circle cx="516.5" cy="362.2" r="3.35"/><circle cx="545.2" cy="340.1" r="3.35"/><circle cx="558.5" cy="348.7" r="3.35"/><circle cx="556.8" cy="360.6" r="3.35"/><path d="M576,332.2L579.9,336.1L576,340L572.1,336.1Z"/></g>
<g font-size="11.7"><text x="345.5" y="373" text-anchor="end">0</text><text x="345.5" y="343.74" text-anchor="end">0.2</text><text x="345.5" y="314.48" text-anchor="end">0.4</text><text x="345.5" y="285.22" text-anchor="end">0.6</text><text x="345.5" y="255.96" text-anchor="end">0.8</text><text x="345.5" y="226.7" text-anchor="end">1</text><text x="350.3" y="397.03" text-anchor="middle">0</text><text x="398.4" y="397.03" text-anchor="middle">0.2</text><text x="446.5" y="397.03" text-anchor="middle">0.4</text><text x="494.6" y="397.03" text-anchor="middle">0.6</text><text x="542.7" y="397.03" text-anchor="middle">0.8</text><text x="590.8" y="397.03" text-anchor="middle">1</text></g>
<text x="312.4" y="217.67" font-size="12.8">(d)</text>
<text x="587.2" y="226.97" font-size="11.3" text-anchor="end">1548 K</text>
<g font-size="11.6"><text x="360.7" y="223.27"><tspan font-family="Liberation Sans">&#945;</tspan>=1</text><text x="356.2" y="252.77"><tspan font-family="Liberation Sans">&#945;</tspan>=0.8</text><text x="356.2" y="308.3"><tspan font-family="Liberation Sans">&#945;</tspan>=0.6</text><text x="356.2" y="330.2"><tspan font-family="Liberation Sans">&#945;</tspan>=0.4</text><text x="356.2" y="355.8"><tspan font-family="Liberation Sans">&#945;</tspan>=0.2</text></g>
<g class="lt" font-size="9.5"><text x="405.8" y="251.47" font-size="9.6">Ideal</text><text x="417.9" y="260.77">evaporation</text></g>
<g font-size="9.3" fill="#000"><circle cx="559.4" cy="239.07" r="3.1"/><text x="569.6" y="242.47">18 h</text><path d="M559.4,245.76L563.01,249.37L559.4,252.98L555.79,249.37Z"/><text x="569.6" y="252.77">24 h</text><rect x="556.62" y="256.89" width="5.55" height="5.55"/><text x="569.6" y="263.07">50 h</text></g></g>
<g><rect x="50.2" y="411.77" width="248" height="175.56" fill="none" stroke="#3a3a3a" stroke-width="1"/>
<path d="M50.2,587.33v-3.6M50.2,411.77v3.6M62.6,587.33v-1.7M62.6,411.77v1.7M75,587.33v-1.7M75,411.77v1.7M87.4,587.33v-1.7M87.4,411.77v1.7M99.8,587.33v-3.6M99.8,411.77v3.6M112.2,587.33v-1.7M112.2,411.77v1.7M124.6,587.33v-1.7M124.6,411.77v1.7M137,587.33v-1.7M137,411.77v1.7M149.4,587.33v-3.6M149.4,411.77v3.6M161.8,587.33v-1.7M161.8,411.77v1.7M174.2,587.33v-1.7M174.2,411.77v1.7M186.6,587.33v-1.7M186.6,411.77v1.7M199,587.33v-3.6M199,411.77v3.6M211.4,587.33v-1.7M211.4,411.77v1.7M223.8,587.33v-1.7M223.8,411.77v1.7M236.2,587.33v-1.7M236.2,411.77v1.7M248.6,587.33v-3.6M248.6,411.77v3.6M261,587.33v-1.7M261,411.77v1.7M273.4,587.33v-1.7M273.4,411.77v1.7M285.8,587.33v-1.7M285.8,411.77v1.7M298.2,587.33v-3.6M298.2,411.77v3.6M50.2,587.33h1.7M298.2,587.33h-1.7M50.2,580.02h1.7M298.2,580.02h-1.7M50.2,572.7h3.6M298.2,572.7h-3.6M50.2,565.38h1.7M298.2,565.38h-1.7M50.2,558.07h1.7M298.2,558.07h-1.7M50.2,550.75h1.7M298.2,550.75h-1.7M50.2,543.44h3.6M298.2,543.44h-3.6M50.2,536.12h1.7M298.2,536.12h-1.7M50.2,528.81h1.7M298.2,528.81h-1.7M50.2,521.5h1.7M298.2,521.5h-1.7M50.2,514.18h3.6M298.2,514.18h-3.6M50.2,506.87h1.7M298.2,506.87h-1.7M50.2,499.55h1.7M298.2,499.55h-1.7M50.2,492.24h1.7M298.2,492.24h-1.7M50.2,484.92h3.6M298.2,484.92h-3.6M50.2,477.61h1.7M298.2,477.61h-1.7M50.2,470.29h1.7M298.2,470.29h-1.7M50.2,462.98h1.7M298.2,462.98h-1.7M50.2,455.66h3.6M298.2,455.66h-3.6M50.2,448.35h1.7M298.2,448.35h-1.7M50.2,441.03h1.7M298.2,441.03h-1.7M50.2,433.72h1.7M298.2,433.72h-1.7M50.2,426.4h3.6M298.2,426.4h-3.6M50.2,419.09h1.7M298.2,419.09h-1.7M50.2,411.77h1.7M298.2,411.77h-1.7" stroke="#3a3a3a" stroke-width="0.9" fill="none"/>
<line x1="50.2" y1="572.7" x2="298.2" y2="572.7" stroke="#a0a0a0" stroke-width="1.8"/>
<path d="M50.2,455.66 53.8,457.36M57.75,459.22 61.35,460.92M65.3,462.79 68.9,464.49M72.85,466.35 76.45,468.05M80.4,469.91 84,471.61M87.95,473.48 91.55,475.17M95.5,477.04 99.1,478.74M103.05,480.6 106.65,482.3M110.6,484.16 114.2,485.86M118.15,487.73 121.75,489.43M125.7,491.29 129.3,492.99M133.25,494.85 136.85,496.55M140.8,498.42 144.4,500.12M148.35,501.98 151.95,503.68M155.9,505.54 159.5,507.24M163.45,509.11 167.05,510.81M171,512.67 174.6,514.37M178.55,516.23 182.15,517.93M186.1,519.8 189.7,521.5M193.65,523.36 197.25,525.06M201.2,526.92 204.8,528.62M208.75,530.49 212.35,532.18M216.3,534.05 219.9,535.75M223.85,537.61 227.45,539.31M231.4,541.17 235,542.87M238.95,544.74 242.55,546.44M246.5,548.3 250.1,550M254.05,551.86 257.65,553.56M261.6,555.43 265.2,557.13M269.15,558.99 272.75,560.69M276.7,562.55 280.3,564.25M284.25,566.12 287.85,567.82M291.8,569.68 295.4,571.38M50.2,484.92 53.8,486.19M57.75,487.59 61.35,488.87M65.3,490.26 68.9,491.54M72.85,492.94 76.45,494.21M80.4,495.61 84,496.88M87.95,498.28 91.55,499.56M95.5,500.95 99.1,502.23M103.05,503.63 106.65,504.9M110.6,506.3 114.2,507.57M118.15,508.97 121.75,510.25M125.7,511.64 129.3,512.92M133.25,514.32 136.85,515.59M140.8,516.99 144.4,518.26M148.35,519.66 151.95,520.93M155.9,522.33 159.5,523.61M163.45,525.01 167.05,526.28M171,527.68 174.6,528.95M178.55,530.35 182.15,531.62M186.1,533.02 189.7,534.3M193.65,535.69 197.25,536.97M201.2,538.37 204.8,539.64M208.75,541.04 212.35,542.31M216.3,543.71 219.9,544.99M223.85,546.38 227.45,547.66M231.4,549.06 235,550.33M238.95,551.73 242.55,553M246.5,554.4 250.1,555.67M254.05,557.07 257.65,558.35M261.6,559.75 265.2,561.02M269.15,562.42 272.75,563.69M276.7,565.09 280.3,566.36M284.25,567.76 287.85,569.04M291.8,570.43 295.4,571.71M50.2,514.18 53.8,515.03M57.75,515.96 61.35,516.81M65.3,517.74 68.9,518.59M72.85,519.52 76.45,520.37M80.4,521.31 84,522.16M87.95,523.09 91.55,523.94M95.5,524.87 99.1,525.72M103.05,526.65 106.65,527.5M110.6,528.43 114.2,529.28M118.15,530.21 121.75,531.06M125.7,532 129.3,532.85M133.25,533.78 136.85,534.63M140.8,535.56 144.4,536.41M148.35,537.34 151.95,538.19M155.9,539.12 159.5,539.97M163.45,540.9 167.05,541.75M171,542.68 174.6,543.53M178.55,544.47 182.15,545.32M186.1,546.25 189.7,547.1M193.65,548.03 197.25,548.88M201.2,549.81 204.8,550.66M208.75,551.59 212.35,552.44M216.3,553.37 219.9,554.22M223.85,555.16 227.45,556.01M231.4,556.94 235,557.79M238.95,558.72 242.55,559.57M246.5,560.5 250.1,561.35M254.05,562.28 257.65,563.13M261.6,564.06 265.2,564.91M269.15,565.85 272.75,566.69M276.7,567.63 280.3,568.48M284.25,569.41 287.85,570.26M291.8,571.19 295.4,572.04M50.2,543.44 53.8,543.86M57.75,544.33 61.35,544.76M65.3,545.22 68.9,545.65M72.85,546.11 76.45,546.54M80.4,547 84,547.43M87.95,547.89 91.55,548.32M95.5,548.78 99.1,549.21M103.05,549.68 106.65,550.1M110.6,550.57 114.2,550.99M118.15,551.46 121.75,551.88M125.7,552.35 129.3,552.77M133.25,553.24 136.85,553.66M140.8,554.13 144.4,554.55M148.35,555.02 151.95,555.44M155.9,555.91 159.5,556.34M163.45,556.8 167.05,557.23M171,557.69 174.6,558.12M178.55,558.58 182.15,559.01M186.1,559.47 189.7,559.9M193.65,560.36 197.25,560.79M201.2,561.26 204.8,561.68M208.75,562.15 212.35,562.57M216.3,563.04 219.9,563.46M223.85,563.93 227.45,564.35M231.4,564.82 235,565.24M238.95,565.71 242.55,566.13M246.5,566.6 250.1,567.02M254.05,567.49 257.65,567.92M261.6,568.38 265.2,568.81M269.15,569.27 272.75,569.7M276.7,570.16 280.3,570.59M284.25,571.05 287.85,571.48M291.8,571.94 295.4,572.37" stroke="#222" stroke-width="0.9" fill="none"/>
<line x1="50.2" y1="426.4" x2="298.2" y2="572.7" stroke="#333" stroke-width="0.9"/>
<path d="M50.2,465.6 52.78,467.09 55.35,468.57 57.92,470.02 60.5,471.46M65.3,474.09 67.88,475.48 70.45,476.86 73.02,478.22 75.6,479.58M80.4,482.07 82.98,483.4 85.55,484.71 88.12,486.02 90.7,487.32M95.5,489.74 98.08,491.02 100.65,492.3 103.22,493.58 105.8,494.85M110.6,497.2 113.17,498.46 115.75,499.72 118.32,500.97 120.9,502.23M125.7,504.55 128.28,505.79 130.85,507.03 133.43,508.27 136,509.5M140.8,511.79 143.38,513.01 145.95,514.23 148.53,515.45 151.1,516.66M155.9,518.91 158.48,520.11 161.05,521.31 163.62,522.5 166.2,523.69M171,525.88 173.57,527.05 176.15,528.21 178.73,529.37 181.3,530.52M186.1,532.64 188.68,533.77 191.25,534.89 193.83,536 196.4,537.1M201.2,539.13 203.77,540.21 206.35,541.28 208.93,542.33 211.5,543.38M216.3,545.3 218.88,546.31 221.45,547.32 224.03,548.31 226.6,549.29M231.4,551.1 233.97,552.05 236.55,552.98 239.12,553.91 241.7,554.83M246.5,556.51 249.07,557.39 251.65,558.26 254.23,559.13 256.8,559.98M261.6,561.54 264.18,562.37 266.75,563.19 269.33,564 271.9,564.8M276.7,566.27 279.27,567.05 281.85,567.83 284.43,568.6 287,569.37M291.8,570.8 293.93,571.43 296.07,572.07 298.2,572.7" fill="none" stroke="#000" stroke-width="1.45"/>
<line x1="115" y1="481" x2="129.7" y2="481" stroke="#555" stroke-width="1"/>
<line x1="76" y1="490.6" x2="89.6" y2="490.6" stroke="#555" stroke-width="1"/>
<line x1="100" y1="505.6" x2="108.3" y2="505.6" stroke="#555" stroke-width="1"/>
<line x1="146.9" y1="509.4" x2="154.2" y2="509.4" stroke="#555" stroke-width="1"/>
<line x1="133.3" y1="518.6" x2="141.7" y2="518.6" stroke="#555" stroke-width="1"/>
<line x1="180" y1="552.2" x2="192" y2="552.2" stroke="#555" stroke-width="1"/>
<line x1="225" y1="554.3" x2="245.8" y2="554.3" stroke="#555" stroke-width="1"/>
<line x1="243.75" y1="542.65" x2="258.3" y2="542.65" stroke="#555" stroke-width="1"/>
<line x1="275" y1="549.3" x2="295.8" y2="549.3" stroke="#555" stroke-width="1"/>
<g fill="#000"><circle cx="50.45" cy="465.6" r="3.35"/><circle cx="122.4" cy="481" r="3.35"/><circle cx="82.5" cy="490.6" r="3.35"/><path d="M82.5,484.8L86.4,488.7L82.5,492.6L78.6,488.7Z"/><path d="M103.8,501.7L107.7,505.6L103.8,509.5L99.9,505.6Z"/><circle cx="151.4" cy="509.4" r="3.35"/><path d="M137.9,514.7L141.8,518.6L137.9,522.5L134,518.6Z"/><circle cx="161.7" cy="534.7" r="3.35"/><circle cx="165.4" cy="533.4" r="3.35"/><circle cx="181.7" cy="541.4" r="3.35"/><path d="M187.5,535.8L191.4,539.7L187.5,543.6L183.6,539.7Z"/><path d="M186.25,548.3L190.15,552.2L186.25,556.1L182.35,552.2Z"/><path d="M236.7,550.4L240.6,554.3L236.7,558.2L232.8,554.3Z"/><circle cx="251.25" cy="542.65" r="3.35"/><circle cx="284.6" cy="549.3" r="3.35"/></g>
<g font-size="11.7"><text x="45.3" y="577.1" text-anchor="end">0</text><text x="45.3" y="547.84" text-anchor="end">0.2</text><text x="45.3" y="518.58" text-anchor="end">0.4</text><text x="45.3" y="489.32" text-anchor="end">0.6</text><text x="45.3" y="460.06" text-anchor="end">0.8</text><text x="45.3" y="430.8" text-anchor="end">1</text><text x="50.1" y="601.13" text-anchor="middle">0</text><text x="98.2" y="601.13" text-anchor="middle">0.2</text><text x="146.3" y="601.13" text-anchor="middle">0.4</text><text x="194.4" y="601.13" text-anchor="middle">0.6</text><text x="242.5" y="601.13" text-anchor="middle">0.8</text><text x="290.6" y="601.13" text-anchor="middle">1</text></g>
<text x="3.7" y="421.77" font-size="12.8">(e)</text>
<text x="287" y="431.07" font-size="11.3" text-anchor="end">1449 K</text>
<g font-size="11.6"><text x="60.5" y="427.37"><tspan font-family="Liberation Sans">&#945;</tspan>=1</text><text x="56" y="456.87"><tspan font-family="Liberation Sans">&#945;</tspan>=0.8</text><text x="56" y="512.4"><tspan font-family="Liberation Sans">&#945;</tspan>=0.6</text><text x="56" y="534.3"><tspan font-family="Liberation Sans">&#945;</tspan>=0.4</text><text x="56" y="559.9"><tspan font-family="Liberation Sans">&#945;</tspan>=0.2</text></g>
<g class="lt" font-size="9.5"><text x="105.6" y="455.57" font-size="9.6">Ideal</text><text x="117.7" y="464.87">evaporation</text></g>
<g font-size="9.3" fill="#000"><circle cx="259.2" cy="443.17" r="3.1"/><text x="269.4" y="446.57">137 h</text><path d="M259.2,450.86L262.81,454.47L259.2,458.08L255.59,454.47Z"/><text x="269.4" y="457.87">120 h</text></g>
<g transform="translate(15.6,573.5) rotate(-90)"><text x="29.3" y="0" font-size="15" font-style="italic" style="stroke-width:0.55px">J</text><text x="36.5" y="6.8" font-size="10.6">evap</text><text x="59.7" y="0" font-size="15.5" style="stroke-width:0.55px">/</text><text x="66.3" y="0" font-size="15" font-style="italic" style="stroke-width:0.55px">J</text><text x="74.2" y="-7.8" font-size="10.6">id</text><text x="80.8" y="6.8" font-size="10.6">evap</text><text x="99.6" y="0" font-size="15">(0)</text></g></g>
<g><rect x="350.4" y="411.77" width="248" height="175.56" fill="none" stroke="#3a3a3a" stroke-width="1"/>
<path d="M350.4,587.33v-3.6M350.4,411.77v3.6M362.8,587.33v-1.7M362.8,411.77v1.7M375.2,587.33v-1.7M375.2,411.77v1.7M387.6,587.33v-1.7M387.6,411.77v1.7M400,587.33v-3.6M400,411.77v3.6M412.4,587.33v-1.7M412.4,411.77v1.7M424.8,587.33v-1.7M424.8,411.77v1.7M437.2,587.33v-1.7M437.2,411.77v1.7M449.6,587.33v-3.6M449.6,411.77v3.6M462,587.33v-1.7M462,411.77v1.7M474.4,587.33v-1.7M474.4,411.77v1.7M486.8,587.33v-1.7M486.8,411.77v1.7M499.2,587.33v-3.6M499.2,411.77v3.6M511.6,587.33v-1.7M511.6,411.77v1.7M524,587.33v-1.7M524,411.77v1.7M536.4,587.33v-1.7M536.4,411.77v1.7M548.8,587.33v-3.6M548.8,411.77v3.6M561.2,587.33v-1.7M561.2,411.77v1.7M573.6,587.33v-1.7M573.6,411.77v1.7M586,587.33v-1.7M586,411.77v1.7M598.4,587.33v-3.6M598.4,411.77v3.6M350.4,587.33h1.7M598.4,587.33h-1.7M350.4,580.02h1.7M598.4,580.02h-1.7M350.4,572.7h3.6M598.4,572.7h-3.6M350.4,565.38h1.7M598.4,565.38h-1.7M350.4,558.07h1.7M598.4,558.07h-1.7M350.4,550.75h1.7M598.4,550.75h-1.7M350.4,543.44h3.6M598.4,543.44h-3.6M350.4,536.12h1.7M598.4,536.12h-1.7M350.4,528.81h1.7M598.4,528.81h-1.7M350.4,521.5h1.7M598.4,521.5h-1.7M350.4,514.18h3.6M598.4,514.18h-3.6M350.4,506.87h1.7M598.4,506.87h-1.7M350.4,499.55h1.7M598.4,499.55h-1.7M350.4,492.24h1.7M598.4,492.24h-1.7M350.4,484.92h3.6M598.4,484.92h-3.6M350.4,477.61h1.7M598.4,477.61h-1.7M350.4,470.29h1.7M598.4,470.29h-1.7M350.4,462.98h1.7M598.4,462.98h-1.7M350.4,455.66h3.6M598.4,455.66h-3.6M350.4,448.35h1.7M598.4,448.35h-1.7M350.4,441.03h1.7M598.4,441.03h-1.7M350.4,433.72h1.7M598.4,433.72h-1.7M350.4,426.4h3.6M598.4,426.4h-3.6M350.4,419.09h1.7M598.4,419.09h-1.7M350.4,411.77h1.7M598.4,411.77h-1.7" stroke="#3a3a3a" stroke-width="0.9" fill="none"/>
<line x1="350.4" y1="572.7" x2="598.4" y2="572.7" stroke="#a0a0a0" stroke-width="1.8"/>
<path d="M350.4,455.66 354,457.36M357.95,459.22 361.55,460.92M365.5,462.79 369.1,464.49M373.05,466.35 376.65,468.05M380.6,469.91 384.2,471.61M388.15,473.48 391.75,475.17M395.7,477.04 399.3,478.74M403.25,480.6 406.85,482.3M410.8,484.16 414.4,485.86M418.35,487.73 421.95,489.43M425.9,491.29 429.5,492.99M433.45,494.85 437.05,496.55M441,498.42 444.6,500.12M448.55,501.98 452.15,503.68M456.1,505.54 459.7,507.24M463.65,509.11 467.25,510.81M471.2,512.67 474.8,514.37M478.75,516.23 482.35,517.93M486.3,519.8 489.9,521.5M493.85,523.36 497.45,525.06M501.4,526.92 505,528.62M508.95,530.49 512.55,532.18M516.5,534.05 520.1,535.75M524.05,537.61 527.65,539.31M531.6,541.17 535.2,542.87M539.15,544.74 542.75,546.44M546.7,548.3 550.3,550M554.25,551.86 557.85,553.56M561.8,555.43 565.4,557.13M569.35,558.99 572.95,560.69M576.9,562.55 580.5,564.25M584.45,566.12 588.05,567.82M592,569.68 595.6,571.38M350.4,484.92 354,486.19M357.95,487.59 361.55,488.87M365.5,490.26 369.1,491.54M373.05,492.94 376.65,494.21M380.6,495.61 384.2,496.88M388.15,498.28 391.75,499.56M395.7,500.95 399.3,502.23M403.25,503.63 406.85,504.9M410.8,506.3 414.4,507.57M418.35,508.97 421.95,510.25M425.9,511.64 429.5,512.92M433.45,514.32 437.05,515.59M441,516.99 444.6,518.26M448.55,519.66 452.15,520.93M456.1,522.33 459.7,523.61M463.65,525.01 467.25,526.28M471.2,527.68 474.8,528.95M478.75,530.35 482.35,531.62M486.3,533.02 489.9,534.3M493.85,535.69 497.45,536.97M501.4,538.37 505,539.64M508.95,541.04 512.55,542.31M516.5,543.71 520.1,544.99M524.05,546.38 527.65,547.66M531.6,549.06 535.2,550.33M539.15,551.73 542.75,553M546.7,554.4 550.3,555.67M554.25,557.07 557.85,558.35M561.8,559.75 565.4,561.02M569.35,562.42 572.95,563.69M576.9,565.09 580.5,566.36M584.45,567.76 588.05,569.04M592,570.43 595.6,571.71M350.4,514.18 354,515.03M357.95,515.96 361.55,516.81M365.5,517.74 369.1,518.59M373.05,519.52 376.65,520.37M380.6,521.31 384.2,522.16M388.15,523.09 391.75,523.94M395.7,524.87 399.3,525.72M403.25,526.65 406.85,527.5M410.8,528.43 414.4,529.28M418.35,530.21 421.95,531.06M425.9,532 429.5,532.85M433.45,533.78 437.05,534.63M441,535.56 444.6,536.41M448.55,537.34 452.15,538.19M456.1,539.12 459.7,539.97M463.65,540.9 467.25,541.75M471.2,542.68 474.8,543.53M478.75,544.47 482.35,545.32M486.3,546.25 489.9,547.1M493.85,548.03 497.45,548.88M501.4,549.81 505,550.66M508.95,551.59 512.55,552.44M516.5,553.37 520.1,554.22M524.05,555.16 527.65,556.01M531.6,556.94 535.2,557.79M539.15,558.72 542.75,559.57M546.7,560.5 550.3,561.35M554.25,562.28 557.85,563.13M561.8,564.06 565.4,564.91M569.35,565.85 572.95,566.69M576.9,567.63 580.5,568.48M584.45,569.41 588.05,570.26M592,571.19 595.6,572.04M350.4,543.44 354,543.86M357.95,544.33 361.55,544.76M365.5,545.22 369.1,545.65M373.05,546.11 376.65,546.54M380.6,547 384.2,547.43M388.15,547.89 391.75,548.32M395.7,548.78 399.3,549.21M403.25,549.68 406.85,550.1M410.8,550.57 414.4,550.99M418.35,551.46 421.95,551.88M425.9,552.35 429.5,552.77M433.45,553.24 437.05,553.66M441,554.13 444.6,554.55M448.55,555.02 452.15,555.44M456.1,555.91 459.7,556.34M463.65,556.8 467.25,557.23M471.2,557.69 474.8,558.12M478.75,558.58 482.35,559.01M486.3,559.47 489.9,559.9M493.85,560.36 497.45,560.79M501.4,561.26 505,561.68M508.95,562.15 512.55,562.57M516.5,563.04 520.1,563.46M524.05,563.93 527.65,564.35M531.6,564.82 535.2,565.24M539.15,565.71 542.75,566.13M546.7,566.6 550.3,567.02M554.25,567.49 557.85,567.92M561.8,568.38 565.4,568.81M569.35,569.27 572.95,569.7M576.9,570.16 580.5,570.59M584.45,571.05 588.05,571.48M592,571.94 595.6,572.37" stroke="#222" stroke-width="0.9" fill="none"/>
<line x1="350.4" y1="426.4" x2="598.4" y2="572.7" stroke="#333" stroke-width="0.9"/>
<path d="M350.4,473.33 352.97,475.46 355.55,477.56 358.12,479.61 360.7,481.63M365.5,485.31 368.07,487.23 370.65,489.13 373.23,490.99 375.8,492.82M380.6,496.17 383.17,497.93 385.75,499.66 388.32,501.37 390.9,503.06M395.7,506.15 398.27,507.77 400.85,509.38 403.43,510.96 406,512.53M410.8,515.4 413.37,516.91 415.95,518.4 418.52,519.88 421.1,521.34M425.9,524.01 428.47,525.41 431.05,526.8 433.62,528.17 436.2,529.53M441,532.01 443.57,533.31 446.15,534.6 448.73,535.87 451.3,537.12M456.1,539.4 458.67,540.59 461.25,541.77 463.82,542.93 466.4,544.06M471.2,546.13 473.77,547.21 476.35,548.27 478.93,549.31 481.5,550.33M486.3,552.16 488.87,553.12 491.45,554.05 494.02,554.96 496.6,555.84M501.4,557.43 503.97,558.25 506.55,559.05 509.12,559.82 511.7,560.56M516.5,561.89 519.08,562.57 521.65,563.22 524.22,563.85 526.8,564.45M531.6,565.51 534.17,566.04 536.75,566.55 539.32,567.03 541.9,567.49M546.7,568.29 549.27,568.68 551.85,569.05 554.42,569.4 557,569.73M561.8,570.28 564.38,570.55 566.95,570.8 569.52,571.03 572.1,571.25M576.9,571.61 579.47,571.78 582.05,571.93 584.62,572.08 587.2,572.21M592,572.44 594.13,572.53 596.27,572.61 598.4,572.7" fill="none" stroke="#000" stroke-width="1.45"/>
<line x1="373.2" y1="502.9" x2="384.3" y2="502.9" stroke="#555" stroke-width="1"/>
<line x1="392.2" y1="514" x2="401.8" y2="514" stroke="#555" stroke-width="1"/>
<line x1="425" y1="521.4" x2="437.5" y2="521.4" stroke="#555" stroke-width="1"/>
<line x1="462.5" y1="542.2" x2="483.3" y2="542.2" stroke="#555" stroke-width="1"/>
<line x1="466.7" y1="551.8" x2="493.75" y2="551.8" stroke="#555" stroke-width="1"/>
<line x1="487.5" y1="557.2" x2="535.4" y2="557.2" stroke="#555" stroke-width="1"/>
<g fill="#000"><circle cx="350.6" cy="473.1" r="3.35"/><circle cx="379" cy="502.9" r="3.35"/><circle cx="396.7" cy="514" r="3.35"/><circle cx="431.7" cy="521.4" r="3.35"/><circle cx="472" cy="542.2" r="3.35"/><circle cx="482.5" cy="551.8" r="3.35"/><circle cx="512" cy="557.2" r="3.35"/></g>
<g font-size="11.7"><text x="345.5" y="577.1" text-anchor="end">0</text><text x="345.5" y="547.84" text-anchor="end">0.2</text><text x="345.5" y="518.58" text-anchor="end">0.4</text><text x="345.5" y="489.32" text-anchor="end">0.6</text><text x="345.5" y="460.06" text-anchor="end">0.8</text><text x="345.5" y="430.8" text-anchor="end">1</text><text x="350.3" y="601.13" text-anchor="middle">0</text><text x="398.4" y="601.13" text-anchor="middle">0.2</text><text x="446.5" y="601.13" text-anchor="middle">0.4</text><text x="494.6" y="601.13" text-anchor="middle">0.6</text><text x="542.7" y="601.13" text-anchor="middle">0.8</text><text x="590.8" y="601.13" text-anchor="middle">1</text></g>
<text x="312.4" y="421.77" font-size="12.8">(f)</text>
<text x="587.2" y="431.07" font-size="11.3" text-anchor="end">1398 K</text>
<g font-size="11.6"><text x="360.7" y="427.37"><tspan font-family="Liberation Sans">&#945;</tspan>=1</text><text x="356.2" y="456.87"><tspan font-family="Liberation Sans">&#945;</tspan>=0.8</text><text x="397.6" y="498.7"><tspan font-family="Liberation Sans">&#945;</tspan>=0.6</text><text x="356.2" y="534.3"><tspan font-family="Liberation Sans">&#945;</tspan>=0.4</text><text x="356.2" y="559.9"><tspan font-family="Liberation Sans">&#945;</tspan>=0.2</text></g>
<g class="lt" font-size="9.5"><text x="405.8" y="455.57" font-size="9.6">Ideal</text><text x="417.9" y="464.87">evaporation</text></g>
<text x="387.6" y="620.33" font-size="13.45">Undersaturation ratio, <tspan font-style="italic">S</tspan> (=<tspan font-style="italic">p</tspan>/<tspan font-style="italic">p</tspan><tspan font-size="9" dy="-5">eq</tspan><tspan dy="5">)</tspan></text></g>
<g><rect x="50.2" y="621.37" width="248" height="175.56" fill="none" stroke="#3a3a3a" stroke-width="1"/>
<path d="M50.2,796.93v-3.6M50.2,621.37v3.6M62.6,796.93v-1.7M62.6,621.37v1.7M75,796.93v-1.7M75,621.37v1.7M87.4,796.93v-1.7M87.4,621.37v1.7M99.8,796.93v-3.6M99.8,621.37v3.6M112.2,796.93v-1.7M112.2,621.37v1.7M124.6,796.93v-1.7M124.6,621.37v1.7M137,796.93v-1.7M137,621.37v1.7M149.4,796.93v-3.6M149.4,621.37v3.6M161.8,796.93v-1.7M161.8,621.37v1.7M174.2,796.93v-1.7M174.2,621.37v1.7M186.6,796.93v-1.7M186.6,621.37v1.7M199,796.93v-3.6M199,621.37v3.6M211.4,796.93v-1.7M211.4,621.37v1.7M223.8,796.93v-1.7M223.8,621.37v1.7M236.2,796.93v-1.7M236.2,621.37v1.7M248.6,796.93v-3.6M248.6,621.37v3.6M261,796.93v-1.7M261,621.37v1.7M273.4,796.93v-1.7M273.4,621.37v1.7M285.8,796.93v-1.7M285.8,621.37v1.7M298.2,796.93v-3.6M298.2,621.37v3.6M50.2,796.93h1.7M298.2,796.93h-1.7M50.2,789.62h1.7M298.2,789.62h-1.7M50.2,782.3h3.6M298.2,782.3h-3.6M50.2,774.98h1.7M298.2,774.98h-1.7M50.2,767.67h1.7M298.2,767.67h-1.7M50.2,760.35h1.7M298.2,760.35h-1.7M50.2,753.04h3.6M298.2,753.04h-3.6M50.2,745.72h1.7M298.2,745.72h-1.7M50.2,738.41h1.7M298.2,738.41h-1.7M50.2,731.09h1.7M298.2,731.09h-1.7M50.2,723.78h3.6M298.2,723.78h-3.6M50.2,716.46h1.7M298.2,716.46h-1.7M50.2,709.15h1.7M298.2,709.15h-1.7M50.2,701.83h1.7M298.2,701.83h-1.7M50.2,694.52h3.6M298.2,694.52h-3.6M50.2,687.2h1.7M298.2,687.2h-1.7M50.2,679.89h1.7M298.2,679.89h-1.7M50.2,672.57h1.7M298.2,672.57h-1.7M50.2,665.26h3.6M298.2,665.26h-3.6M50.2,657.94h1.7M298.2,657.94h-1.7M50.2,650.63h1.7M298.2,650.63h-1.7M50.2,643.31h1.7M298.2,643.31h-1.7M50.2,636h3.6M298.2,636h-3.6M50.2,628.68h1.7M298.2,628.68h-1.7M50.2,621.37h1.7M298.2,621.37h-1.7" stroke="#3a3a3a" stroke-width="0.9" fill="none"/>
<line x1="50.2" y1="782.3" x2="298.2" y2="782.3" stroke="#454545" stroke-width="1.1"/>
<path d="M50.2,665.26 53.8,666.96M57.75,668.82 61.35,670.52M65.3,672.39 68.9,674.09M72.85,675.95 76.45,677.65M80.4,679.51 84,681.21M87.95,683.08 91.55,684.77M95.5,686.64 99.1,688.34M103.05,690.2 106.65,691.9M110.6,693.76 114.2,695.46M118.15,697.33 121.75,699.03M125.7,700.89 129.3,702.59M133.25,704.45 136.85,706.15M140.8,708.02 144.4,709.72M148.35,711.58 151.95,713.28M155.9,715.14 159.5,716.84M163.45,718.71 167.05,720.41M171,722.27 174.6,723.97M178.55,725.83 182.15,727.53M186.1,729.4 189.7,731.09M193.65,732.96 197.25,734.66M201.2,736.52 204.8,738.22M208.75,740.09 212.35,741.78M216.3,743.65 219.9,745.35M223.85,747.21 227.45,748.91M231.4,750.77 235,752.47M238.95,754.34 242.55,756.04M246.5,757.9 250.1,759.6M254.05,761.46 257.65,763.16M261.6,765.03 265.2,766.73M269.15,768.59 272.75,770.29M276.7,772.15 280.3,773.85M284.25,775.72 287.85,777.42M291.8,779.28 295.4,780.98M50.2,694.52 53.8,695.79M57.75,697.19 61.35,698.47M65.3,699.86 68.9,701.14M72.85,702.54 76.45,703.81M80.4,705.21 84,706.48M87.95,707.88 91.55,709.16M95.5,710.55 99.1,711.83M103.05,713.23 106.65,714.5M110.6,715.9 114.2,717.17M118.15,718.57 121.75,719.85M125.7,721.24 129.3,722.52M133.25,723.92 136.85,725.19M140.8,726.59 144.4,727.86M148.35,729.26 151.95,730.53M155.9,731.93 159.5,733.21M163.45,734.61 167.05,735.88M171,737.28 174.6,738.55M178.55,739.95 182.15,741.22M186.1,742.62 189.7,743.9M193.65,745.29 197.25,746.57M201.2,747.97 204.8,749.24M208.75,750.64 212.35,751.91M216.3,753.31 219.9,754.59M223.85,755.98 227.45,757.26M231.4,758.66 235,759.93M238.95,761.33 242.55,762.6M246.5,764 250.1,765.27M254.05,766.67 257.65,767.95M261.6,769.35 265.2,770.62M269.15,772.02 272.75,773.29M276.7,774.69 280.3,775.96M284.25,777.36 287.85,778.64M291.8,780.03 295.4,781.31M50.2,723.78 53.8,724.63M57.75,725.56 61.35,726.41M65.3,727.34 68.9,728.19M72.85,729.12 76.45,729.97M80.4,730.91 84,731.76M87.95,732.69 91.55,733.54M95.5,734.47 99.1,735.32M103.05,736.25 106.65,737.1M110.6,738.03 114.2,738.88M118.15,739.81 121.75,740.66M125.7,741.6 129.3,742.45M133.25,743.38 136.85,744.23M140.8,745.16 144.4,746.01M148.35,746.94 151.95,747.79M155.9,748.72 159.5,749.57M163.45,750.5 167.05,751.35M171,752.28 174.6,753.13M178.55,754.07 182.15,754.92M186.1,755.85 189.7,756.7M193.65,757.63 197.25,758.48M201.2,759.41 204.8,760.26M208.75,761.19 212.35,762.04M216.3,762.97 219.9,763.82M223.85,764.76 227.45,765.61M231.4,766.54 235,767.39M238.95,768.32 242.55,769.17M246.5,770.1 250.1,770.95M254.05,771.88 257.65,772.73M261.6,773.66 265.2,774.51M269.15,775.45 272.75,776.29M276.7,777.23 280.3,778.08M284.25,779.01 287.85,779.86M291.8,780.79 295.4,781.64M50.2,753.04 53.8,753.46M57.75,753.93 61.35,754.36M65.3,754.82 68.9,755.25M72.85,755.71 76.45,756.14M80.4,756.6 84,757.03M87.95,757.49 91.55,757.92M95.5,758.38 99.1,758.81M103.05,759.28 106.65,759.7M110.6,760.17 114.2,760.59M118.15,761.06 121.75,761.48M125.7,761.95 129.3,762.37M133.25,762.84 136.85,763.26M140.8,763.73 144.4,764.15M148.35,764.62 151.95,765.04M155.9,765.51 159.5,765.94M163.45,766.4 167.05,766.83M171,767.29 174.6,767.72M178.55,768.18 182.15,768.61M186.1,769.07 189.7,769.5M193.65,769.96 197.25,770.39M201.2,770.86 204.8,771.28M208.75,771.75 212.35,772.17M216.3,772.64 219.9,773.06M223.85,773.53 227.45,773.95M231.4,774.42 235,774.84M238.95,775.31 242.55,775.73M246.5,776.2 250.1,776.62M254.05,777.09 257.65,777.52M261.6,777.98 265.2,778.41M269.15,778.87 272.75,779.3M276.7,779.76 280.3,780.19M284.25,780.65 287.85,781.08M291.8,781.54 295.4,781.97" stroke="#222" stroke-width="0.9" fill="none"/>
<line x1="50.2" y1="636" x2="298.2" y2="782.3" stroke="#333" stroke-width="0.9"/>
<path d="M50.2,694.9 52.78,696.86 55.35,698.77 57.92,700.64 60.5,702.47M65.3,705.77 67.88,707.49 70.45,709.18 73.02,710.84 75.6,712.46M80.4,715.42 82.98,716.96 85.55,718.48 88.12,719.98 90.7,721.46M95.5,724.15 98.08,725.57 100.65,726.97 103.22,728.35 105.8,729.71M110.6,732.2 113.17,733.52 115.75,734.82 118.32,736.1 120.9,737.37M125.7,739.7 128.28,740.93 130.85,742.14 133.43,743.34 136,744.52M140.8,746.69 143.38,747.83 145.95,748.96 148.53,750.08 151.1,751.17M155.9,753.18 158.48,754.23 161.05,755.27 163.62,756.29 166.2,757.3M171,759.12 173.57,760.08 176.15,761.02 178.73,761.93 181.3,762.83M186.1,764.46 188.68,765.3 191.25,766.13 193.83,766.93 196.4,767.71M201.2,769.11 203.77,769.83 206.35,770.53 208.93,771.21 211.5,771.86M216.3,773.02 218.88,773.61 221.45,774.17 224.03,774.72 226.6,775.24M231.4,776.15 233.97,776.6 236.55,777.04 239.12,777.45 241.7,777.84M246.5,778.5 249.07,778.83 251.65,779.14 254.23,779.43 256.8,779.7M261.6,780.15 264.18,780.37 266.75,780.58 269.33,780.77 271.9,780.94M276.7,781.24 279.27,781.38 281.85,781.52 284.43,781.65 287,781.77M291.8,782 293.93,782.1 296.07,782.2 298.2,782.3" fill="none" stroke="#000" stroke-width="1.45"/>
<line x1="71" y1="711.2" x2="81.5" y2="711.2" stroke="#555" stroke-width="1"/>
<line x1="99" y1="712.65" x2="111.7" y2="712.65" stroke="#555" stroke-width="1"/>
<line x1="120.8" y1="734.4" x2="131.25" y2="734.4" stroke="#555" stroke-width="1"/>
<line x1="148" y1="754.7" x2="175" y2="754.7" stroke="#555" stroke-width="1"/>
<line x1="169.7" y1="766.8" x2="237" y2="766.8" stroke="#555" stroke-width="1"/>
<line x1="178" y1="773.9" x2="298" y2="773.9" stroke="#555" stroke-width="1"/>
<g fill="#000"><circle cx="50.45" cy="694.5" r="3.35"/><circle cx="76.1" cy="711.2" r="3.35"/><circle cx="105" cy="712.65" r="3.35"/><circle cx="125.8" cy="734.4" r="3.35"/><circle cx="161.7" cy="754.7" r="3.35"/><circle cx="203.3" cy="766.8" r="3.35"/><circle cx="263" cy="773.9" r="3.35"/></g>
<g font-size="11.7"><text x="45.3" y="786.7" text-anchor="end">0</text><text x="45.3" y="757.44" text-anchor="end">0.2</text><text x="45.3" y="728.18" text-anchor="end">0.4</text><text x="45.3" y="698.92" text-anchor="end">0.6</text><text x="45.3" y="669.66" text-anchor="end">0.8</text><text x="45.3" y="640.4" text-anchor="end">1</text><text x="50.1" y="810.73" text-anchor="middle">0</text><text x="98.2" y="810.73" text-anchor="middle">0.2</text><text x="146.3" y="810.73" text-anchor="middle">0.4</text><text x="194.4" y="810.73" text-anchor="middle">0.6</text><text x="242.5" y="810.73" text-anchor="middle">0.8</text><text x="290.6" y="810.73" text-anchor="middle">1</text></g>
<text x="3.7" y="631.37" font-size="12.8">(g)</text>
<text x="287" y="640.67" font-size="11.3" text-anchor="end">1347 K</text>
<g font-size="11.6"><text x="60.5" y="636.97"><tspan font-family="Liberation Sans">&#945;</tspan>=1</text><text x="56" y="666.47"><tspan font-family="Liberation Sans">&#945;</tspan>=0.8</text><text x="68.5" y="698.7"><tspan font-family="Liberation Sans">&#945;</tspan>=0.6</text><text x="56" y="743.9"><tspan font-family="Liberation Sans">&#945;</tspan>=0.4</text><text x="56" y="769.5"><tspan font-family="Liberation Sans">&#945;</tspan>=0.2</text></g>
<g class="lt" font-size="9.5"><text x="105.6" y="665.17" font-size="9.6">Ideal</text><text x="117.7" y="674.47">evaporation</text></g>
<g transform="translate(15.6,783.1) rotate(-90)"><text x="29.3" y="0" font-size="15" font-style="italic" style="stroke-width:0.55px">J</text><text x="36.5" y="6.8" font-size="10.6">evap</text><text x="59.7" y="0" font-size="15.5" style="stroke-width:0.55px">/</text><text x="66.3" y="0" font-size="15" font-style="italic" style="stroke-width:0.55px">J</text><text x="74.2" y="-7.8" font-size="10.6">id</text><text x="80.8" y="6.8" font-size="10.6">evap</text><text x="99.6" y="0" font-size="15">(0)</text></g>
<text x="87.4" y="829.93" font-size="13.45">Undersaturation ratio, <tspan font-style="italic">S</tspan> (=<tspan font-style="italic">p</tspan>/<tspan font-style="italic">p</tspan><tspan font-size="9" dy="-5">eq</tspan><tspan dy="5">)</tspan></text></g>
</svg>
</body></html>
